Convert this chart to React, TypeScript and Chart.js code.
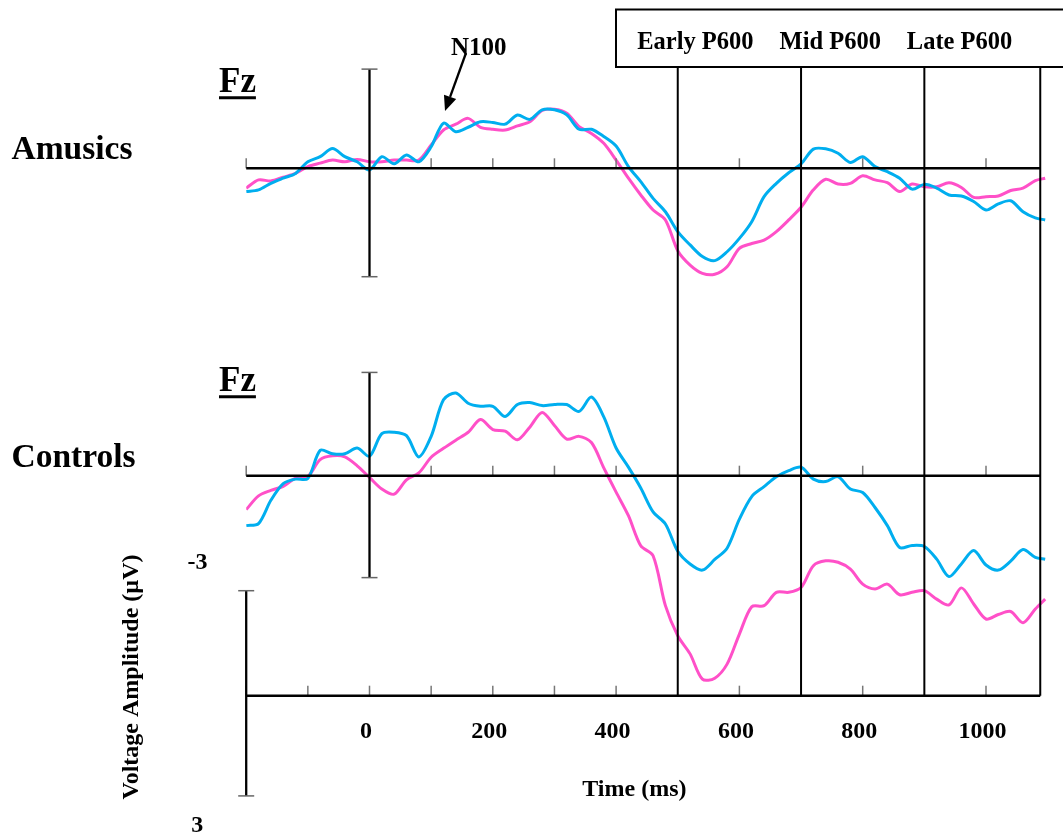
import React, { useEffect, useRef } from "react";
import { Chart, registerables } from "chart.js";

Chart.register(...registerables);

// ---- Data (time in ms, amplitude in µV; negative plotted upward) ----
const TIMES = [
  -200, -180, -160, -140, -120, -100, -80, -60, -40, -20, 0, 20, 40, 60, 80, 100,
  120, 140, 160, 180, 200, 220, 240, 260, 280, 300, 320, 340, 360, 380, 400, 420,
  440, 460, 480, 500, 520, 540, 560, 580, 600, 620, 640, 660, 680, 700, 720, 740,
  760, 780, 800, 820, 840, 860, 880, 900, 920, 940, 960, 980, 1000, 1020, 1040,
  1060, 1080, 1096,
];

const AMUSICS_BLUE = [
  0.68, 0.63, 0.44, 0.29, 0.15, -0.19, -0.34, -0.58, -0.34, -0.19, 0.05, -0.34, -0.13, -0.39, -0.19, -0.63,
  -1.32, -1.07, -1.2, -1.36, -1.34, -1.29, -1.56, -1.43, -1.71, -1.71, -1.56, -1.14, -1.14, -0.93, -0.65, -0.05,
  0.39, 0.88, 1.27, 1.85, 2.24, 2.58, 2.7, 2.44, 2.05, 1.56, 0.83, 0.44, 0.13, -0.13, -0.56, -0.57,
  -0.44, -0.17, -0.34, -0.05, 0.1, 0.29, 0.61, 0.47, 0.58, 0.78, 0.81, 0.97, 1.22, 1.04, 0.95,
  1.27, 1.45, 1.51,
];

const AMUSICS_PINK = [
  0.58, 0.34, 0.37, 0.26, 0.15, -0.05, -0.15, -0.24, -0.19, -0.26, -0.19, -0.19, -0.24, -0.24, -0.24, -0.68,
  -1.12, -1.29, -1.46, -1.2, -1.14, -1.12, -1.24, -1.36, -1.69, -1.73, -1.61, -1.22, -1.02, -0.73, -0.24, 0.29,
  0.78, 1.22, 1.51, 2.41, 2.83, 3.07, 3.1, 2.88, 2.34, 2.2, 2.1, 1.85, 1.51, 1.14, 0.63, 0.32,
  0.46, 0.44, 0.22, 0.34, 0.42, 0.68, 0.46, 0.54, 0.54, 0.42, 0.56, 0.85, 0.83, 0.81, 0.65,
  0.58, 0.36, 0.29,
];

const CONTROLS_BLUE = [
  1.46, 1.4, 0.72, 0.23, 0.1, 0.08, -0.74, -0.64, -0.64, -0.81, -0.57, -1.23, -1.27, -1.17, -0.55, -1.15,
  -2.22, -2.42, -2.12, -2.03, -2.03, -1.73, -2.08, -2.14, -2.05, -2.08, -2.08, -1.88, -2.3, -1.72, -0.81, -0.25,
  0.36, 1.06, 1.41, 2.21, 2.58, 2.76, 2.45, 2.12, 1.27, 0.61, 0.32, 0.03, -0.15, -0.25, 0.1, 0.17,
  0.03, 0.39, 0.49, 0.93, 1.46, 2.1, 2.04, 2.07, 2.44, 2.95, 2.58, 2.19, 2.61, 2.76, 2.5,
  2.16, 2.39, 2.44,
];

const CONTROLS_PINK = [
  0.99, 0.59, 0.43, 0.31, 0.07, 0.02, -0.47, -0.58, -0.55, -0.29, 0.05, 0.39, 0.54, 0.12, -0.08, -0.54,
  -0.8, -1.04, -1.27, -1.64, -1.35, -1.3, -1.05, -1.42, -1.85, -1.47, -1.07, -1.15, -0.97, -0.23, 0.48, 1.17,
  2.05, 2.34, 3.8, 4.68, 5.21, 5.95, 5.92, 5.51, 4.63, 3.83, 3.8, 3.41, 3.41, 3.27, 2.63, 2.49,
  2.53, 2.73, 3.17, 3.31, 3.17, 3.48, 3.41, 3.36, 3.61, 3.78, 3.28, 3.75, 4.19, 4.06, 3.97,
  4.3, 3.9, 3.61,
];

const TIME_TICK_LABELS = ["0", "200", "400", "600", "800", "1000"];
const TIME_TICK_VALUES = [0, 200, 400, 600, 800, 1000];
const PANEL_TICKS = [-200, 100, 200, 300, 400, 600, 800, 1000];
const BOTTOM_TICKS = [-200, -100, 0, 100, 200, 300, 400, 600, 800, 1000];
const WINDOW_LINES = [500, 700, 900, 1088];
const WINDOW_LABELS = ["Early P600", "Mid P600", "Late P600"];
const AXIS_END = 1088;

const BLUE = "rgb(0,174,239)";
const PINK = "rgb(255,80,200)";
const FONT = '"Liberation Serif", "Times New Roman", serif';

const W = 1063;
const H = 837;
const PX_PER_UV = 34.2;

function yRange(zeroPx: number) {
  const min = -zeroPx / PX_PER_UV;
  return { min, max: min + H / PX_PER_UV };
}

const overlay = {
  id: "overlay",
  afterDatasetsDraw(chart: any) {
    const ctx: CanvasRenderingContext2D = chart.ctx;
    const sx = chart.scales.x;
    const yA = chart.scales.yA;
    const yC = chart.scales.yC;
    const yS = chart.scales.yS;
    const px = (t: number) => sx.getPixelForValue(t);
    const line = (x1: number, y1: number, x2: number, y2: number, w: number, c: string) => {
      ctx.beginPath();
      ctx.lineWidth = w;
      ctx.strokeStyle = c;
      ctx.moveTo(x1, y1);
      ctx.lineTo(x2, y2);
      ctx.stroke();
    };
    const text = (s: string, x: number, y: number, size: number, align: CanvasTextAlign, base: CanvasTextBaseline) => {
      ctx.font = `bold ${size}px ${FONT}`;
      ctx.fillStyle = "#000";
      ctx.textAlign = align;
      ctx.textBaseline = base;
      ctx.fillText(s, x, y);
    };
    ctx.save();
    ctx.lineCap = "butt";
    const xL = px(-200);
    const xR = px(AXIS_END);

    // panel ticks
    for (const sc of [yA, yC]) {
      const y0 = sc.getPixelForValue(0);
      for (const t of PANEL_TICKS) line(px(t), y0, px(t), y0 - 10, 1.5, "#777");
    }
    const yb = yS.getPixelForValue(0);
    for (const t of BOTTOM_TICKS) line(px(t), yb, px(t), yb - 10, 1.5, "#777");

    // baselines
    for (const sc of [yA, yC, yS]) {
      const y0 = sc.getPixelForValue(0);
      line(xL, y0, xR, y0, 2.5, "#000");
    }

    // vertical axes at 0 ms with caps
    const vaxis = (sc: any, x: number, a: number, b: number) => {
      const y1 = sc.getPixelForValue(a);
      const y2 = sc.getPixelForValue(b);
      line(x, y1, x, y2, 2.3, "#000");
      line(x - 8, y1, x + 8, y1, 1.5, "#666");
      line(x - 8, y2, x + 8, y2, 1.5, "#666");
    };
    vaxis(yA, px(0), -2.9, 3.17);
    vaxis(yC, px(0), -3.02, 2.98);
    vaxis(yS, px(-200), -3.07, 2.93);

    // window lines
    const boxBottom = 67;
    for (const t of WINDOW_LINES) line(px(t), boxBottom, px(t), yb, 2, "#000");

    // box
    ctx.lineWidth = 2;
    ctx.strokeStyle = "#000";
    ctx.strokeRect(616, 9.5, 500, boxBottom - 9.5);
    const labelX = [695.4, 830.3, 959.6];
    WINDOW_LABELS.forEach((s, i) => text(s, labelX[i], 48.6, 24.5, "center", "alphabetic"));

    // group labels
    text("Amusics", 11.5, 159.3, 33.5, "left", "alphabetic");
    text("Controls", 11.5, 467.3, 33.5, "left", "alphabetic");

    // Fz with underline
    const fz = (baseY: number) => {
      text("Fz", 219, baseY, 35, "left", "alphabetic");
      ctx.font = `bold 35px ${FONT}`;
      const w = ctx.measureText("Fz").width;
      line(219, baseY + 6, 219 + w, baseY + 6, 3, "#000");
    };
    fz(91.7);
    fz(390.8);

    // N100 label and arrow
    text("N100", 451, 55, 25, "left", "alphabetic");
    const sxA = 466, syA = 53, tx = 445, ty = 111;
    const dx = tx - sxA, dy = ty - syA;
    const len = Math.hypot(dx, dy);
    const ux = dx / len, uy = dy / len;
    const hl = 15, hw = 6.5;
    const bx = tx - ux * hl, by = ty - uy * hl;
    line(sxA, syA, bx, by, 2.3, "#000");
    ctx.beginPath();
    ctx.fillStyle = "#000";
    ctx.moveTo(tx, ty);
    ctx.lineTo(bx - uy * hw, by + ux * hw);
    ctx.lineTo(bx + uy * hw, by - ux * hw);
    ctx.closePath();
    ctx.fill();

    // time tick labels
    TIME_TICK_VALUES.forEach((t, i) => text(TIME_TICK_LABELS[i], px(t) - 3.5, 732, 24, "center", "middle"));
    text("Time (ms)", 634.4, 790, 24, "center", "middle");

    // voltage scale labels
    text("-3", 197.5, 563, 24, "center", "middle");
    text("3", 197.3, 826, 24, "center", "middle");
    ctx.save();
    ctx.translate(131.5, 677);
    ctx.rotate(-Math.PI / 2);
    text("Voltage Amplitude (µV)", 0, 0, 24, "center", "middle");
    ctx.restore();

    ctx.restore();
  },
};

export default function App() {
  const ref = useRef<HTMLCanvasElement | null>(null);
  useEffect(() => {
    if (!ref.current) return;
    const toXY = (vals: number[]) => TIMES.map((t, i) => ({ x: t, y: vals[i] }));
    const ds = (label: string, vals: number[], color: string, axis: string) => ({
      label,
      data: toXY(vals),
      borderColor: color,
      backgroundColor: color,
      borderWidth: 3,
      pointRadius: 0,
      tension: 0.3,
      fill: false,
      yAxisID: axis,
    });
    const chart = new Chart(ref.current, {
      type: "line",
      data: {
        datasets: [
          ds("Amusics (blue)", AMUSICS_BLUE, BLUE, "yA"),
          ds("Controls (blue)", CONTROLS_BLUE, BLUE, "yC"),
          ds("Amusics (pink)", AMUSICS_PINK, PINK, "yA"),
          ds("Controls (pink)", CONTROLS_PINK, PINK, "yC"),
        ],
      },
      options: {
        animation: false,
        responsive: false,
        devicePixelRatio: 1,
        layout: { padding: { left: 246.2, right: 15.35, top: 0, bottom: 0 } },
        plugins: { legend: { display: false }, tooltip: { enabled: false }, title: { display: false } },
        scales: {
          x: { type: "linear", min: -200, max: 1100, display: false, bounds: "data" },
          yA: { type: "linear", reverse: true, display: false, bounds: "data", ...yRange(168.3) },
          yC: { type: "linear", reverse: true, display: false, bounds: "data", ...yRange(475.7) },
          yS: { type: "linear", reverse: true, display: false, bounds: "data", ...yRange(695.7) },
        },
      },
      plugins: [overlay],
    } as any);
    return () => chart.destroy();
  }, []);
  return (
    <div style={{ position: "absolute", left: 0, top: 0, width: W, height: H, background: "#fff" }}>
      <canvas ref={ref} width={W} height={H} style={{ width: W, height: H, display: "block" }} />
    </div>
  );
}
